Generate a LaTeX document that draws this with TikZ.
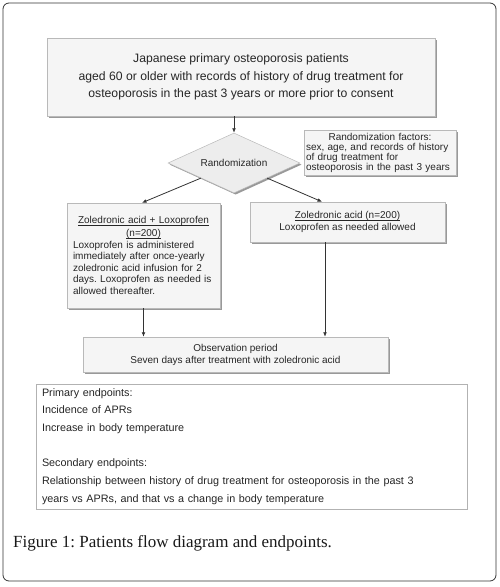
\documentclass[tikz,border=0pt]{standalone}
\usepackage{fontspec}
\setmainfont{Liberation Sans}
\newfontfamily\capfont{Liberation Serif}
\usetikzlibrary{shapes.geometric,arrows.meta,shadows}
\frenchspacing
\newcommand\myul[1]{\setbox0\hbox{#1}\rlap{\rule[-1.6pt]{\wd0}{0.45pt}}\box0}
\tikzset{
  gbox/.style={draw=gray!55, line width=0.5pt, fill=gray!8, inner sep=0pt, text=black!85,
    drop shadow={shadow xshift=1.6pt, shadow yshift=-1.6pt, fill=gray!80, opacity=1}},
  arr/.style={draw=black!80, line width=0.8pt, -{Latex[length=4.5pt,width=3.8pt]}},
  small/.style={font=\fontsize{10}{11.5}\selectfont}
}
\begin{document}
\begin{tikzpicture}[x=1pt,y=-1pt]
\useasboundingbox (0,0) rectangle (500,587);
\draw[rounded corners=6pt, draw=black!80, line width=0.8pt] (3,3) rectangle (496,581);

\node[gbox, minimum width=388pt, minimum height=78pt, align=center,
  font=\fontsize{12.2}{17.5}\selectfont] (top) at (241,77)
  {Japanese primary osteoporosis patients\\
   aged 60 or older with records of history of drug treatment for\\
   osteoporosis in the past 3 years or more prior to consent};

\node[gbox, diamond, aspect=2.2, minimum width=132pt, minimum height=60pt, fill=gray!14,
  small] (dia) at (234,163) {Randomization};

\node[gbox, minimum width=152pt, minimum height=45pt, text width=148pt, align=left,
  font=\fontsize{10}{10}\selectfont] (fac) at (380,152.5)
  {\makebox[\linewidth]{Randomization factors:}\\
   sex, age, and records of history\\
   of drug treatment for\\
   osteoporosis in the past 3 years};

\node[gbox, minimum width=153pt, minimum height=105pt, text width=141pt, align=left,
  small] (lb) at (143.5,255.5)
  {\makebox[\linewidth]{\myul{Zoledronic acid + Loxoprofen}}\\[1.5pt]
   \makebox[\linewidth]{\myul{(n=200)}}\\
   Loxoprofen is administered\\
   immediately after once-yearly\\
   zoledronic acid infusion for 2\\
   days. Loxoprofen as needed is\\
   allowed thereafter.};

\node[gbox, minimum width=195pt, minimum height=40pt, align=center,
  font=\fontsize{10}{12}\selectfont] (rb) at (347.5,222)
  {\myul{Zoledronic acid (n=200)}\\ Loxoprofen as needed allowed};

\node[gbox, minimum width=305pt, minimum height=35pt, align=center,
  font=\fontsize{10}{12}\selectfont] (ob) at (235.5,354.5)
  {Observation period\\ Seven days after treatment with zoledronic acid};

\node[draw=gray!60, line width=0.7pt, fill=white, minimum width=431pt, minimum height=125pt,
  inner sep=0pt, text width=419pt, align=left, text=black!85,
  font=\fontsize{10.8}{17.67}\selectfont] (eb) at (251.5,446.5)
  {Primary endpoints:\\
   Incidence of APRs\\
   Increase in body temperature\\[17.67pt]
   Secondary endpoints:\\
   Relationship between history of drug treatment for osteoporosis in the past 3\\
   years vs APRs, and that vs a change in body temperature};

\node[anchor=west, inner sep=0pt, text=black!90, font=\capfont\fontsize{17}{20}\selectfont] (cap) at (13,543)
  {Figure 1: Patients flow diagram and endpoints.};

\draw[arr] (top.south -| dia.north) -- (dia.north);
\draw[arr] (dia.south west) -- ([xshift=-1.5pt]lb.north);
\draw[arr] (dia.south east) -- ([xshift=-25.5pt]rb.north);
\draw[arr] (lb.south) -- (lb.south |- ob.north);
\draw[arr] ([xshift=-22.5pt]rb.south) -- ([xshift=-22.5pt]rb.south |- ob.north);
\end{tikzpicture}
\end{document}
